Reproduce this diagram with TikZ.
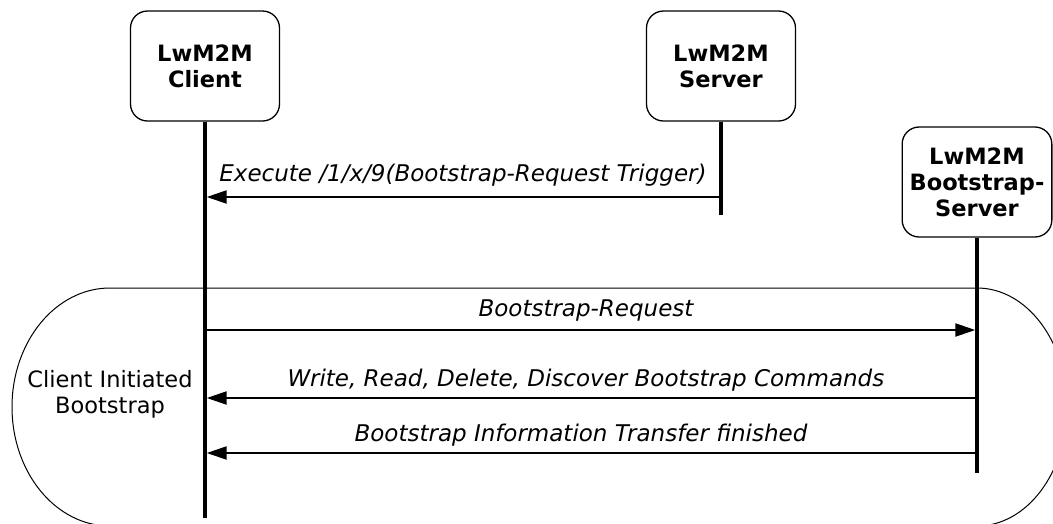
\documentclass[tikz,border=0pt]{standalone}
\usepackage{fontspec}
\setmainfont{DejaVu Sans}
\usetikzlibrary{arrows.meta}

\tikzstyle{party}=[draw, line width=1.3pt, rounded corners=17pt, minimum width=149pt, minimum height=110pt, align=center, font=\bfseries]
\tikzstyle{lifeline}=[draw, line width=3.5pt]
\tikzstyle{msg}=[draw, line width=2.2pt, -{Triangle[length=20pt,width=13pt]}, shorten >=1.7pt]
\tikzstyle{msglabel}=[font=\fontsize{23pt}{26pt}\selectfont\itshape, anchor=base, inner sep=0pt]
\tikzstyle{region}=[draw, line width=1pt]

\begin{document}
\fontsize{22.5pt}{26pt}\selectfont
\begin{tikzpicture}[x=1pt, y=-1pt]
  \clip (0,0) rectangle (1053,523);

  % phase frame
  \path[region] (110,288) -- (977,288)
    arc[start angle=-90, end angle=90, x radius=90, y radius=119] -- (110,526)
    arc[start angle=90, end angle=270, x radius=98, y radius=119] -- cycle;
  \node[align=center] (phase) at (110,394) {Client Initiated\\Bootstrap};

  % parties
  \node[party] (cli) at (205,66) {LwM2M\\Client};
  \node[party] (srv) at (721,66) {LwM2M\\Server};
  \node[party, minimum width=144pt] (bss) at (977,182) {LwM2M\\Bootstrap-\\Server};

  \coordinate (cli-end) at (205,518);
  \coordinate (srv-end) at (721,215);
  \coordinate (bss-end) at (977,473);

  \foreach \name in {cli, srv, bss} {
    \path[lifeline] (\name) -- (\name-end);
  }

  % messages
  \path[msg] (srv |- 0,197) -- node[msglabel, yshift=16pt] {Execute /1/x/9(Bootstrap-Request Trigger)} (cli |- 0,197);
  \path[msg] (cli |- 0,330) -- node[msglabel, yshift=14pt, xshift=-5pt] {Bootstrap-Request} (bss |- 0,330);
  \path[msg] (bss |- 0,398) -- node[msglabel, yshift=12pt, xshift=-5pt] {Write, Read, Delete, Discover Bootstrap Commands} (cli |- 0,398);
  \path[msg] (bss |- 0,453) -- node[msglabel, yshift=12pt, xshift=-10pt] {Bootstrap Information Transfer finished} (cli |- 0,453);
\end{tikzpicture}
\end{document}
